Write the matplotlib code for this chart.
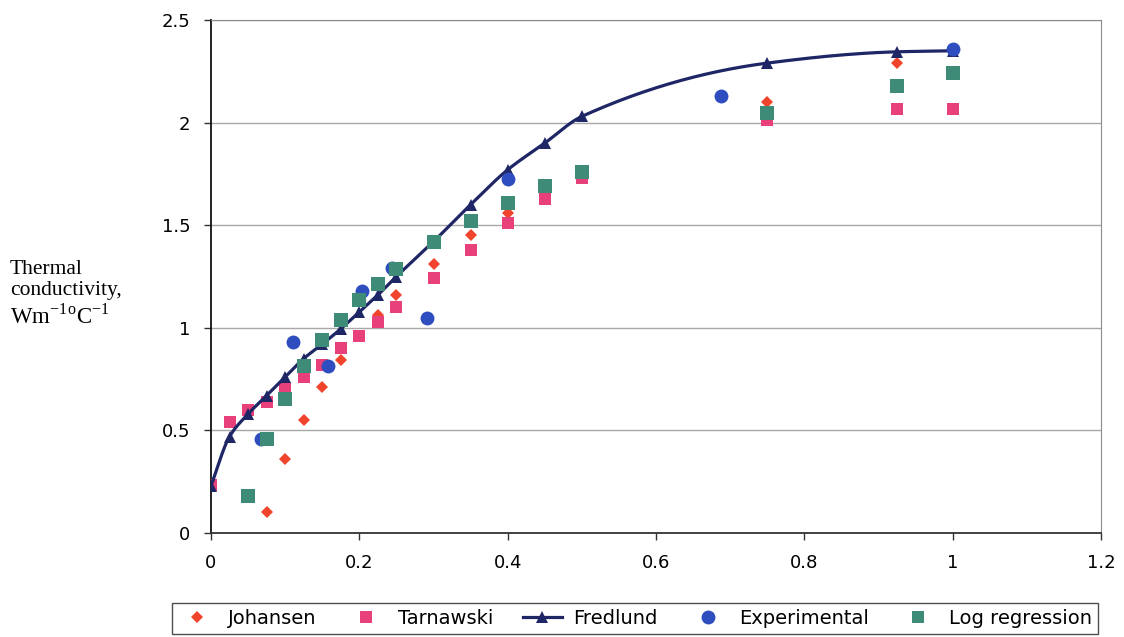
import numpy as np
import matplotlib
matplotlib.use("Agg")
from matplotlib import pyplot as plt
from matplotlib.lines import Line2D

plt.rcParams["font.family"] = ["DejaVu Sans"]
plt.rcParams["mathtext.fontset"] = "custom"
plt.rcParams["mathtext.rm"] = "Liberation Serif"

# Johansen model
johansen_x = [0.075, 0.1, 0.125, 0.15, 0.175, 0.2, 0.225, 0.25, 0.3, 0.35, 0.4, 0.45, 0.5, 0.75, 0.925]
johansen_y = [0.10, 0.36, 0.55, 0.71, 0.845, 0.96, 1.06, 1.16, 1.31, 1.45, 1.56, 1.63, 1.74, 2.10, 2.29]

# Tarnawski model
tarnawski_x = [0, 0.025, 0.05, 0.075, 0.1, 0.125, 0.15, 0.175, 0.2, 0.225, 0.25, 0.3, 0.35, 0.4, 0.45, 0.5, 0.75, 0.925, 1.0]
tarnawski_y = [0.235, 0.54, 0.60, 0.64, 0.705, 0.76, 0.82, 0.90, 0.96, 1.03, 1.10, 1.245, 1.38, 1.51, 1.63, 1.73, 2.015, 2.065, 2.065]

# Fredlund model
fredlund_x = [0, 0.025, 0.05, 0.075, 0.1, 0.125, 0.15, 0.175, 0.2, 0.225, 0.25, 0.3, 0.35, 0.4, 0.45, 0.5, 0.75, 0.925, 1.0]
fredlund_y = [0.23, 0.47, 0.58, 0.67, 0.76, 0.85, 0.92, 0.995, 1.077, 1.16, 1.25, 1.42, 1.60, 1.77, 1.90, 2.03, 2.29, 2.345, 2.35]

# measured values
experimental_x = [0.068, 0.111, 0.158, 0.203, 0.244, 0.291, 0.40, 0.688, 1.0]
experimental_y = [0.46, 0.93, 0.815, 1.18, 1.29, 1.05, 1.725, 2.13, 2.36]

# log regression fit
logreg_x = [0.05, 0.075, 0.1, 0.125, 0.15, 0.175, 0.2, 0.225, 0.25, 0.3, 0.35, 0.4, 0.45, 0.5, 0.75, 0.925, 1.0]
logreg_y = [0.18, 0.46, 0.655, 0.815, 0.94, 1.04, 1.137, 1.215, 1.285, 1.42, 1.52, 1.61, 1.69, 1.76, 2.045, 2.18, 2.24]

x_ticks = [0, 0.2, 0.4, 0.6, 0.8, 1, 1.2]
y_ticks = [0, 0.5, 1, 1.5, 2, 2.5]

RED = "#F0452C"
PINK = "#E8407A"
NAVY = "#1E2666"
BLUE = "#2E4EC0"
GREEN = "#3E8C78"


def smoothLine(xs, ys, steps=30):
    # monotone cubic (Fritsch-Carlson) path through the points
    x = np.asarray(xs, dtype=float)
    y = np.asarray(ys, dtype=float)
    h = np.diff(x)
    delta = np.diff(y) / h
    m = np.zeros_like(y)
    m[0], m[-1] = delta[0], delta[-1]
    for i in range(1, len(x) - 1):
        if delta[i - 1] * delta[i] <= 0:
            m[i] = 0.0
        else:
            w1 = 2 * h[i] + h[i - 1]
            w2 = h[i] + 2 * h[i - 1]
            m[i] = (w1 + w2) / (w1 / delta[i - 1] + w2 / delta[i])
    outX, outY = [], []
    t = np.linspace(0, 1, steps, endpoint=False)
    for i in range(len(x) - 1):
        h00 = 2 * t ** 3 - 3 * t ** 2 + 1
        h10 = t ** 3 - 2 * t ** 2 + t
        h01 = -2 * t ** 3 + 3 * t ** 2
        h11 = t ** 3 - t ** 2
        outX.extend(x[i] + t * h[i])
        outY.extend(h00 * y[i] + h10 * h[i] * m[i] + h01 * y[i + 1] + h11 * h[i] * m[i + 1])
    outX.append(x[-1])
    outY.append(y[-1])
    return outX, outY


fig = plt.figure(figsize=(11.24, 6.37), dpi=100)
ax = fig.add_axes([211 / 1124, 1 - 533 / 637, 890 / 1124, 513 / 637])

ax.plot(johansen_x, johansen_y, linestyle="none", marker="D", markersize=6.5,
        color=RED, markeredgewidth=0, zorder=3)
ax.plot(tarnawski_x, tarnawski_y, linestyle="none", marker="s", markersize=9,
        color=PINK, markeredgewidth=0, zorder=3)
sx, sy = smoothLine(fredlund_x, fredlund_y)
ax.plot(sx, sy, color=NAVY, linewidth=2.3, zorder=4)
ax.plot(fredlund_x, fredlund_y, linestyle="none", marker="^", markersize=8.5,
        color=NAVY, markeredgewidth=0, zorder=4)
ax.plot(experimental_x, experimental_y, linestyle="none", marker="o", markersize=10,
        color=BLUE, markeredgewidth=0, zorder=5)
ax.plot(logreg_x, logreg_y, linestyle="none", marker="s", markersize=10,
        color=GREEN, markeredgewidth=0, zorder=6)

ax.set_xlim(0, 1.2)
ax.set_ylim(0, 2.5)
ax.set_xticks(x_ticks)
ax.set_xticklabels(["0", "0.2", "0.4", "0.6", "0.8", "1", "1.2"])
ax.set_yticks(y_ticks)
ax.set_yticklabels(["0", "0.5", "1", "1.5", "2", "2.5"])
ax.tick_params(axis="both", labelsize=13, length=5, width=1, color="#333333", direction="out")
ax.tick_params(axis="x", pad=10)
ax.tick_params(axis="y", pad=10)

ax.yaxis.grid(True, color="#A8A8A8", linewidth=1)
ax.set_axisbelow(True)
ax.spines["left"].set_color("#111111")
ax.spines["bottom"].set_color("#333333")
ax.spines["top"].set_color("#8C8C8C")
ax.spines["right"].set_color("#8C8C8C")
for side in ("left", "bottom"):
    ax.spines[side].set_linewidth(1.3)

# y axis title, drawn horizontally to the left of the axis
labelFont = dict(family="Liberation Serif", fontsize=15.5, color="black")
fig.text(10 / 1124, 1 - 274 / 637, "Thermal", **labelFont)
fig.text(10 / 1124, 1 - 295 / 637, "conductivity,", **labelFont)
fig.text(10 / 1124, 1 - 323 / 637,
         r"Wm$^{\mathregular{-1}}$$^{\mathregular{o}}$C$^{\mathregular{-1}}$",
         family="Liberation Serif", fontsize=16.5, color="black")

handles = [
    Line2D([], [], linestyle="none", marker="D", markersize=6.5, color=RED, markeredgewidth=0),
    Line2D([], [], linestyle="none", marker="s", markersize=8.5, color=PINK, markeredgewidth=0),
    Line2D([], [], color=NAVY, linewidth=2.3, marker="^", markersize=8, markeredgewidth=0),
    Line2D([], [], linestyle="none", marker="o", markersize=10, color=BLUE, markeredgewidth=0),
    Line2D([], [], linestyle="none", marker="s", markersize=8.5, color=GREEN, markeredgewidth=0),
]
labels = ["Johansen", "Tarnawski", "Fredlund", "Experimental", "Log regression"]
leg = fig.legend(
    handles, labels, ncol=5, mode="expand",
    bbox_to_anchor=(172 / 1124, 1 - 634 / 637, 926 / 1124, 34 / 637),
    loc="lower left", fontsize=14, frameon=True, fancybox=False,
    handlelength=2.0, handletextpad=0.6, borderpad=0.3, borderaxespad=0,
)
leg.get_frame().set_edgecolor("#222222")
leg.get_frame().set_linewidth(1)

fig.savefig("out.png", dpi=100, facecolor="white")
